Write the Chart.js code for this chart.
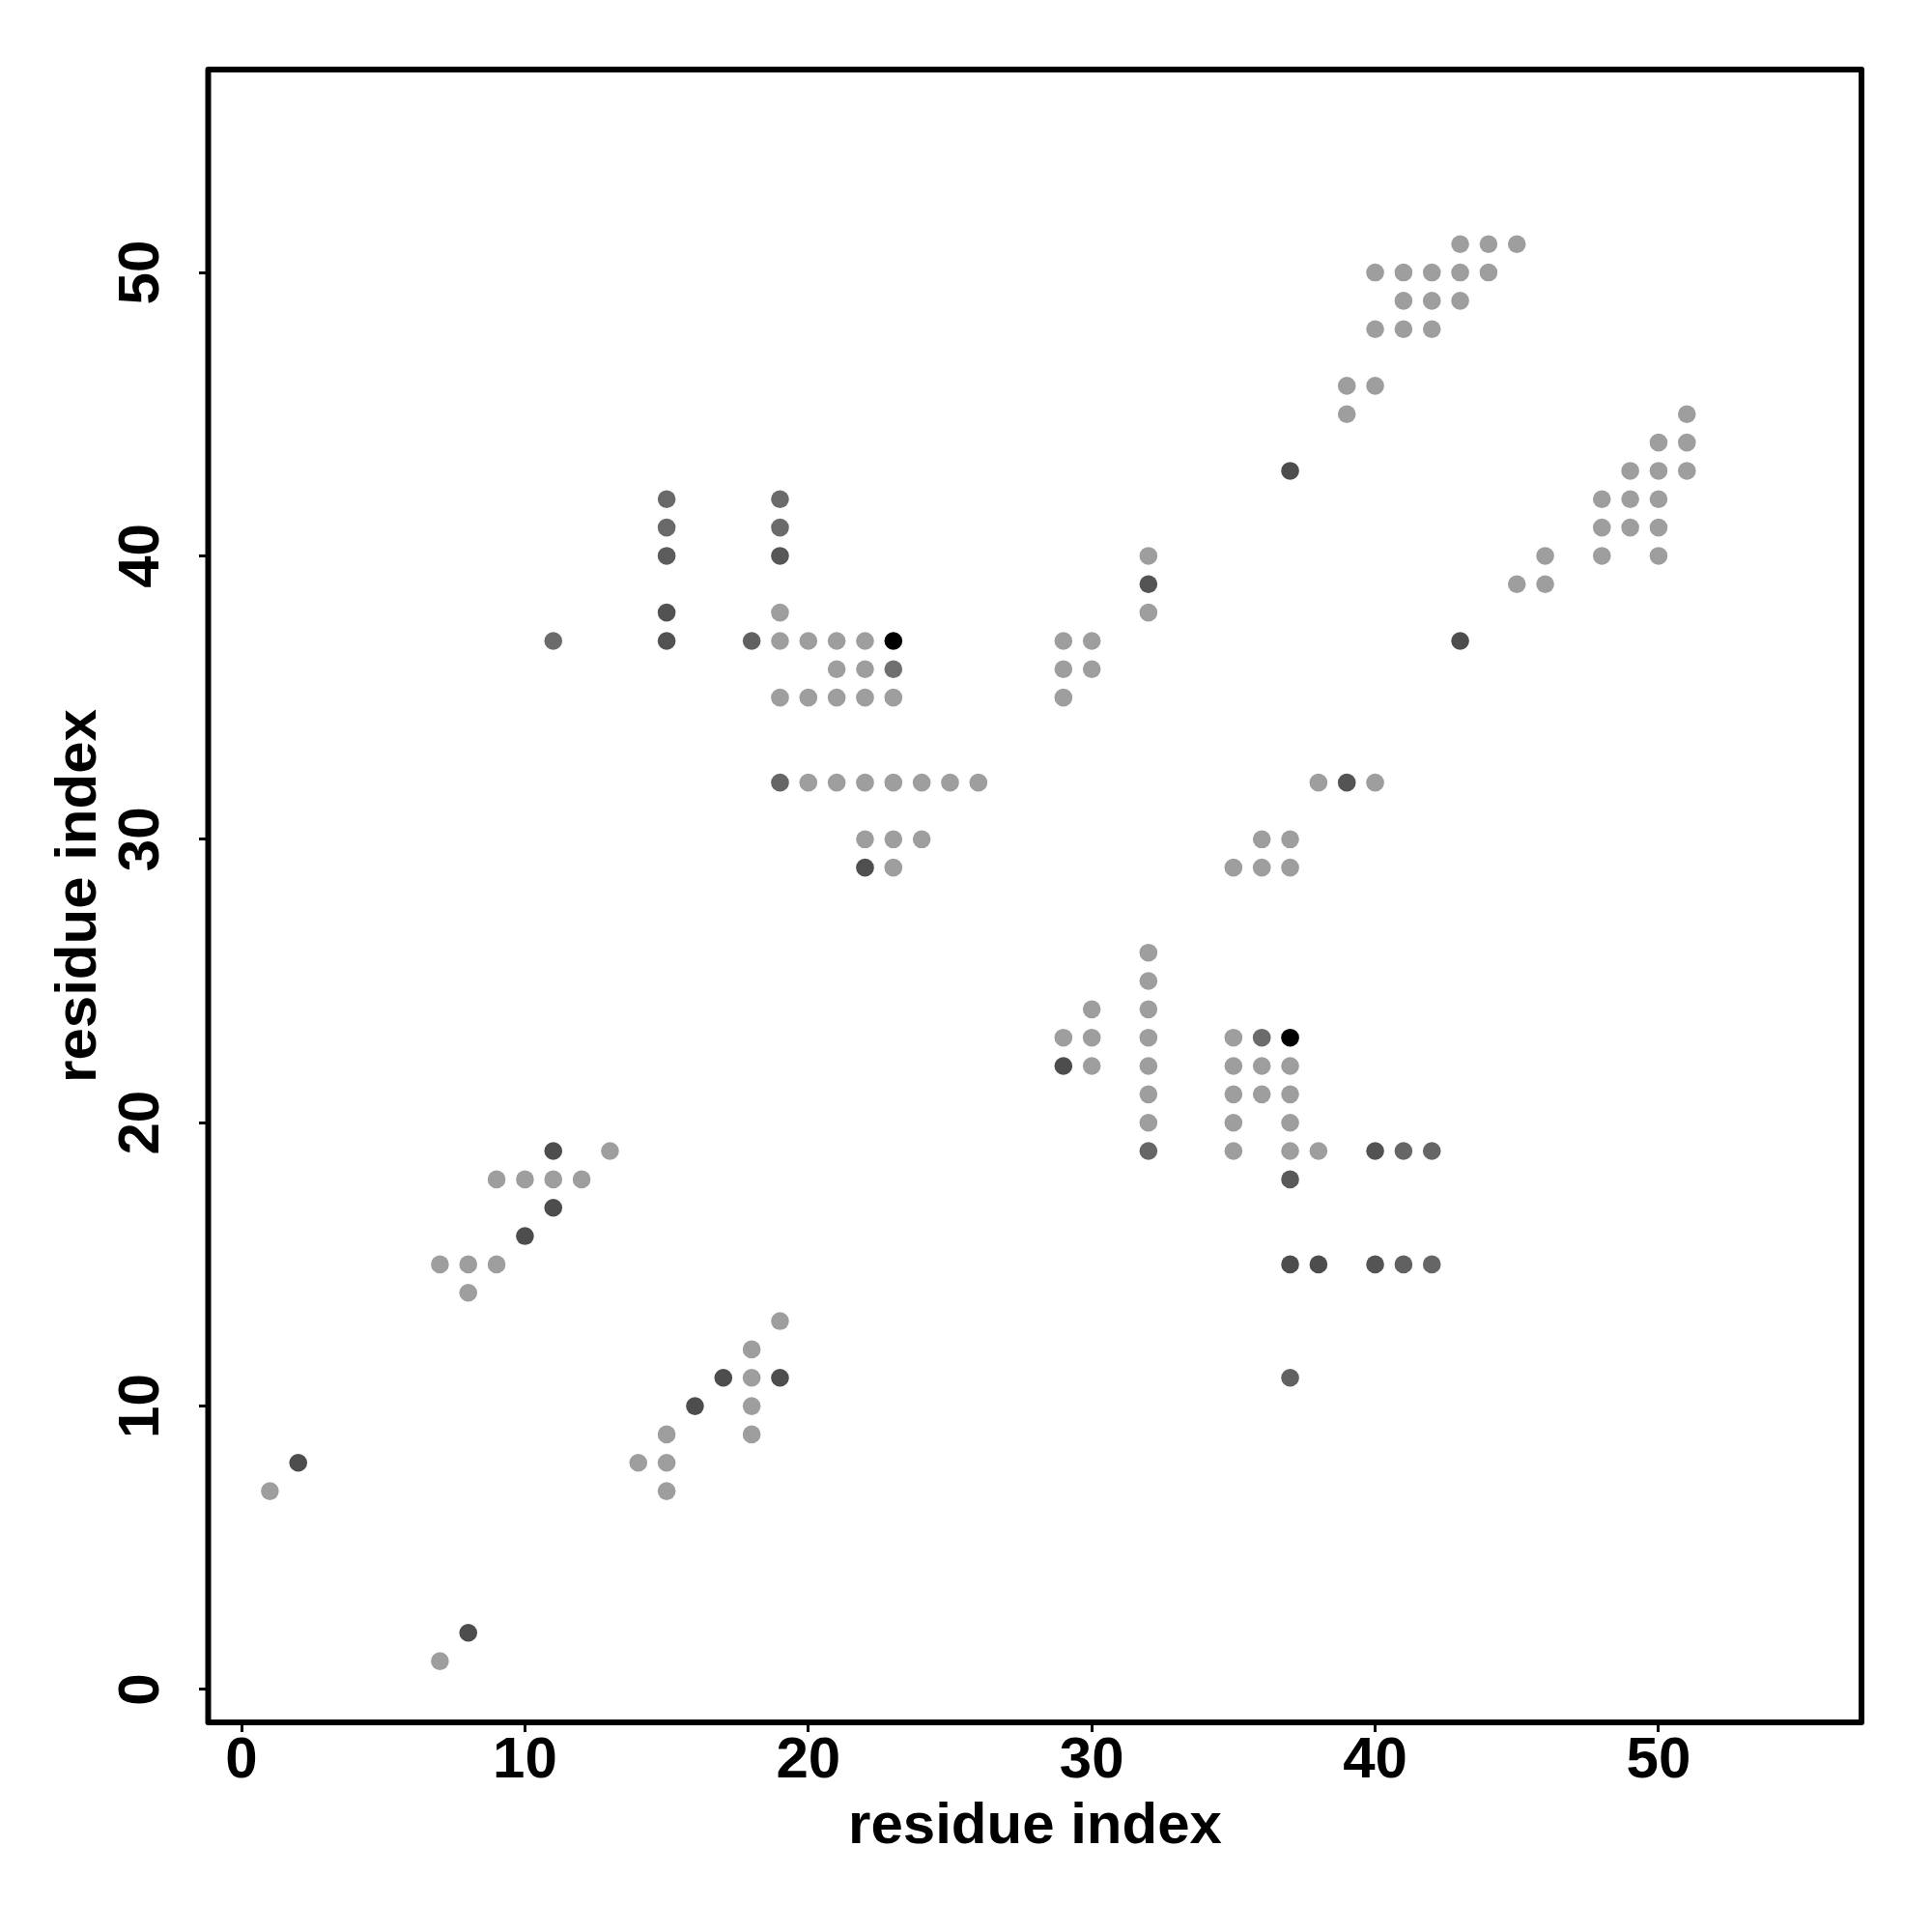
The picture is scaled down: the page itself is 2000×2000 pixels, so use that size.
<!DOCTYPE html>
<html>
<head>
<meta charset="utf-8">
<script src="https://cdn.jsdelivr.net/npm/chart.js@4/dist/chart.umd.min.js"></script>
<style>
html,body{margin:0;padding:0;background:#ffffff;}
#wrap{width:2000px;height:2000px;}
</style>
</head>
<body>
<div id="wrap"><canvas id="c" width="2000" height="2000"></canvas></div>
<script>
// ---- data ----
const axisTitle = 'residue index';
const tickValues = [0, 10, 20, 30, 40, 50];
const axisMin = -1.16;
const axisMax = 57.16;

// contact pairs (residue i on x, residue j on y) and contact strength (0..1, darker = stronger)
const residueI = [
  43,44,45,
  40,41,42,43,44,
  41,42,43,
  40,41,42,
  39,40,
  39,51,
  50,51,
  37,49,50,51,
  15,19,48,49,50,
  15,19,48,49,50,
  15,19,32,46,48,50,
  32,45,46,
  15,19,32,
  11,15,18,19,20,21,22,23,29,30,43,
  21,22,23,29,30,
  19,20,21,22,23,29,
  19,20,21,22,23,24,25,26,38,39,40,
  22,23,24,36,37,
  22,23,35,36,37,
  32,
  32,
  30,32,
  29,30,32,35,36,37,
  29,30,32,35,36,37,
  32,35,36,37,
  32,35,37,
  11,13,32,35,37,38,40,41,42,
  9,10,11,12,37,
  11,
  10,
  7,8,9,37,38,40,41,42,
  8,
  19,
  18,
  17,18,19,37,
  16,18,
  15,18,
  2,14,15,
  1,15,
  8,
  7
];
const residueJ = [
  51,51,51,
  50,50,50,50,50,
  49,49,49,
  48,48,48,
  46,46,
  45,45,
  44,44,
  43,43,43,43,
  42,42,42,42,42,
  41,41,41,41,41,
  40,40,40,40,40,40,
  39,39,39,
  38,38,38,
  37,37,37,37,37,37,37,37,37,37,37,
  36,36,36,36,36,
  35,35,35,35,35,35,
  32,32,32,32,32,32,32,32,32,32,32,
  30,30,30,30,30,
  29,29,29,29,29,
  26,
  25,
  24,24,
  23,23,23,23,23,23,
  22,22,22,22,22,22,
  21,21,21,21,
  20,20,20,
  19,19,19,19,19,19,19,19,19,
  18,18,18,18,18,
  17,
  16,
  15,15,15,15,15,15,15,15,
  14,
  13,
  12,
  11,11,11,11,
  10,10,
  9,9,
  8,8,8,
  7,7,
  2,
  1
];
const contactStrength = [
  0.38,0.38,0.38,
  0.38,0.38,0.38,0.38,0.38,
  0.38,0.38,0.38,
  0.38,0.38,0.38,
  0.38,0.38,
  0.38,0.38,
  0.38,0.38,
  0.70,0.38,0.38,0.38,
  0.59,0.58,0.38,0.38,0.38,
  0.59,0.58,0.38,0.38,0.38,
  0.64,0.66,0.38,0.38,0.38,0.38,
  0.67,0.38,0.38,
  0.68,0.38,0.38,
  0.58,0.68,0.62,0.38,0.38,0.38,0.38,1.00,0.38,0.38,0.70,
  0.38,0.38,0.56,0.38,0.38,
  0.38,0.38,0.38,0.38,0.38,0.38,
  0.60,0.38,0.38,0.38,0.38,0.38,0.38,0.38,0.38,0.67,0.38,
  0.38,0.38,0.38,0.38,0.38,
  0.69,0.38,0.38,0.38,0.38,
  0.38,
  0.38,
  0.38,0.38,
  0.38,0.38,0.38,0.38,0.58,1.00,
  0.70,0.38,0.38,0.38,0.38,0.38,
  0.38,0.38,0.38,0.38,
  0.38,0.38,0.38,
  0.70,0.38,0.60,0.38,0.38,0.38,0.68,0.60,0.60,
  0.38,0.38,0.38,0.38,0.65,
  0.70,
  0.70,
  0.38,0.38,0.38,0.70,0.70,0.67,0.62,0.60,
  0.38,
  0.38,
  0.38,
  0.70,0.38,0.70,0.62,
  0.70,0.38,
  0.38,0.38,
  0.70,0.38,0.38,
  0.38,0.38,
  0.70,
  0.38
];

// ---- helpers ----
function strengthToGray(s) {
  const g = Math.round(255 * (1 - s));
  return 'rgb(' + g + ',' + g + ',' + g + ')';
}
const points = residueI.map((x, k) => ({ x: x, y: residueJ[k] }));
const pointColors = contactStrength.map(strengthToGray);

const FONT = '"Liberation Sans", Arial, Helvetica, sans-serif';

const boxPlugin = {
  id: 'plotBox',
  afterDraw(chart) {
    const a = chart.chartArea;
    const ctx = chart.ctx;
    ctx.save();
    ctx.strokeStyle = '#000000';
    ctx.lineWidth = 6;
    ctx.lineJoin = 'round';
    ctx.strokeRect(a.left - 0.5, a.top, a.right - a.left + 0.5, a.bottom - a.top);
    ctx.restore();
  }
};

new Chart(document.getElementById('c'), {
  type: 'scatter',
  data: {
    datasets: [{
      label: 'contacts',
      data: points,
      pointRadius: 9.3,
      pointHoverRadius: 9.3,
      pointBorderWidth: 0,
      pointBackgroundColor: pointColors,
      pointBorderColor: pointColors
    }]
  },
  options: {
    responsive: false,
    animation: false,
    devicePixelRatio: 1,
    layout: { padding: { top: 72, right: 73, left: 0, bottom: 0 } },
    plugins: {
      legend: { display: false },
      tooltip: { enabled: false },
      title: { display: false }
    },
    scales: {
      x: {
        type: 'linear',
        position: 'bottom',
        min: axisMin,
        max: axisMax,
        afterBuildTicks(s) { s.ticks = tickValues.map(v => ({ value: v })); },
        afterFit(s) { s.height = 217; s.paddingLeft = 0; s.paddingRight = 0; },
        border: { display: false },
        grid: { display: true, drawOnChartArea: false, drawTicks: true, tickLength: 10, tickWidth: 3, tickColor: '#000000' },
        ticks: {
          autoSkip: false, maxRotation: 0, minRotation: 0, padding: 0,
          color: '#000000',
          font: { family: FONT, size: 60, weight: 'bold', lineHeight: 1 },
          callback: v => String(v)
        },
        title: {
          display: true, text: axisTitle, color: '#000000',
          font: { family: FONT, size: 60, weight: 'bold', lineHeight: 1 },
          padding: { top: 0, bottom: 79 }
        }
      },
      y: {
        type: 'linear',
        position: 'left',
        min: axisMin,
        max: axisMax,
        afterBuildTicks(s) { s.ticks = tickValues.map(v => ({ value: v })); },
        afterFit(s) { s.width = 216; s.paddingTop = 0; s.paddingBottom = 0; },
        border: { display: false },
        grid: { display: true, drawOnChartArea: false, drawTicks: true, tickLength: 10, tickWidth: 3, tickColor: '#000000' },
        ticks: {
          autoSkip: false, minRotation: 90, maxRotation: 90, crossAlign: 'center', padding: 25,
          color: '#000000',
          font: { family: FONT, size: 60, weight: 'bold', lineHeight: 1 },
          callback: v => String(v)
        },
        title: {
          display: true, text: axisTitle, color: '#000000',
          font: { family: FONT, size: 60, weight: 'bold', lineHeight: 1 },
          padding: { top: 52, bottom: 0 }
        }
      }
    }
  },
  plugins: [boxPlugin]
});
</script>
</body>
</html>
